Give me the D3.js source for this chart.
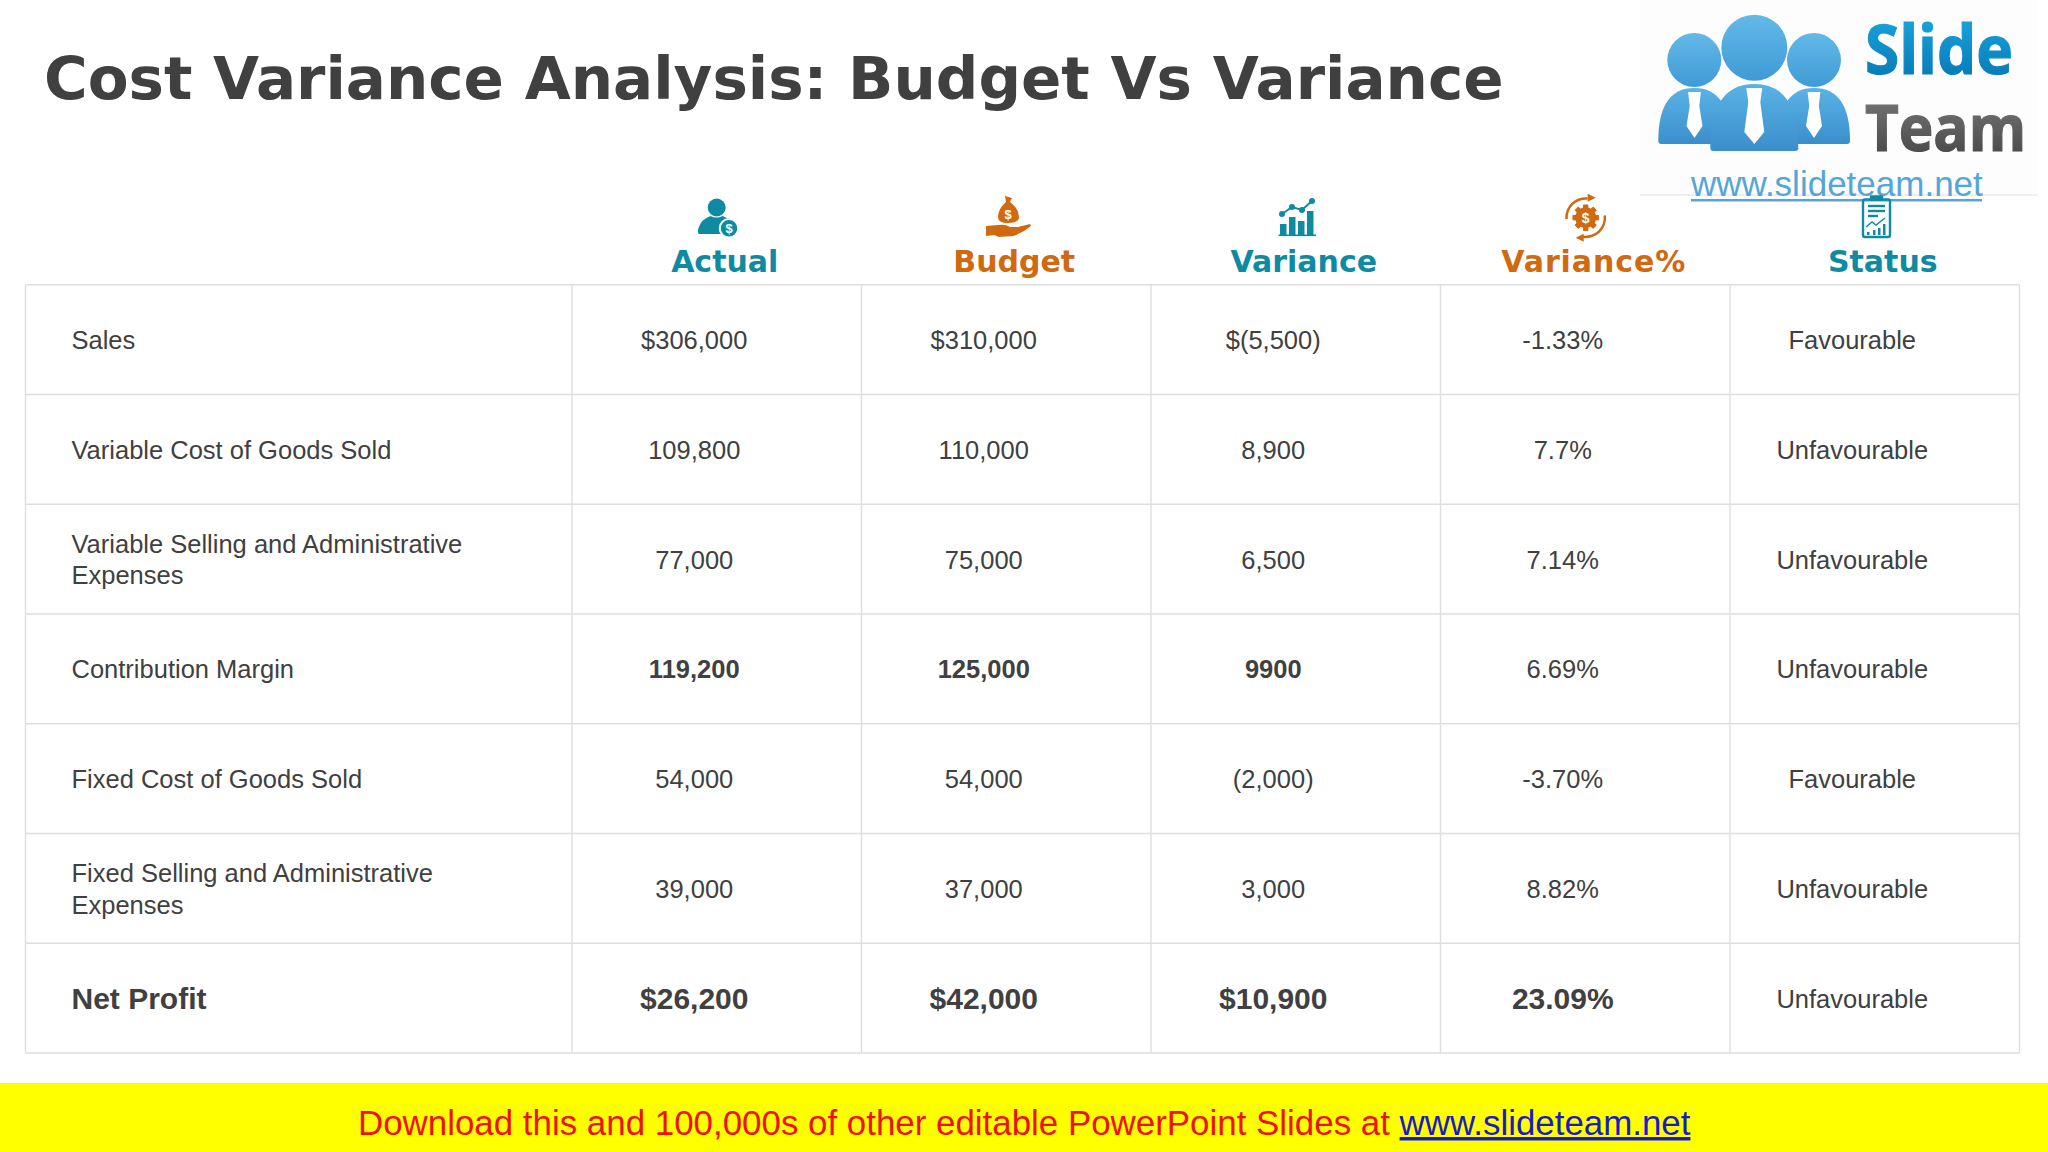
<!DOCTYPE html>
<html lang="en">
<head>
<meta charset="UTF-8">
<script src="https://d3js.org/d3.v7.min.js"></script>
<title>Cost Variance Analysis</title>
<style>
  html, body { margin: 0; padding: 0; background: #fff; }
  svg { display: block; }
  text { font-family: "Liberation Sans", Arial, sans-serif; fill: #404040; }
  .dj { font-family: "DejaVu Sans", Verdana, sans-serif; font-weight: bold; }
  .os { font-family: "Open Sans", sans-serif; font-weight: bold; }
</style>
</head>
<body>
<div id="chart"></div>
<script>
const titleText = "Cost Variance Analysis: Budget Vs Variance";
const columns = ["Actual", "Budget", "Variance", "Variance%", "Status"];
const columnColors = ["#0e8ba3", "#d0690f", "#0e8ba3", "#d0690f", "#0e8ba3"];
const rowLabels = [
  ["Sales"],
  ["Variable Cost of Goods Sold"],
  ["Variable Selling and Administrative", "Expenses"],
  ["Contribution Margin"],
  ["Fixed Cost of Goods Sold"],
  ["Fixed Selling and Administrative", "Expenses"],
  ["Net Profit"]
];
const actual = ["$306,000", "109,800", "77,000", "119,200", "54,000", "39,000", "$26,200"];
const budget = ["$310,000", "110,000", "75,000", "125,000", "54,000", "37,000", "$42,000"];
const variance = ["$(5,500)", "8,900", "6,500", "9900", "(2,000)", "3,000", "$10,900"];
const variancePct = ["-1.33%", "7.7%", "7.14%", "6.69%", "-3.70%", "8.82%", "23.09%"];
const status = ["Favourable", "Unfavourable", "Unfavourable", "Unfavourable", "Favourable", "Unfavourable", "Unfavourable"];
const valueColumns = [actual, budget, variance, variancePct, status];

const W = 2048, H = 1152;
const svg = d3.select("#chart").append("svg").attr("width", W).attr("height", H);
const defs = svg.append("defs");

function grad(id, top, bottom) {
  const g = defs.append("linearGradient").attr("id", id).attr("x1", 0).attr("x2", 0).attr("y1", 0).attr("y2", 1);
  g.append("stop").attr("offset", "0%").attr("stop-color", top);
  g.append("stop").attr("offset", "100%").attr("stop-color", bottom);
}
grad("gHead", "#63b9e8", "#3f9bd6");
grad("gBody", "#5ab2e6", "#3a8fcb");
grad("gSlide", "#1eaee6", "#0270ae");
grad("gTeam", "#808080", "#3f3f3f");

// scales
const tableLeft = 25.5, labelRight = 572, tableRight = 2019.5;
const x = d3.scaleBand().domain(columns).range([labelRight, tableRight]);
const y = d3.scaleBand().domain(d3.range(rowLabels.length)).range([284.7, 1053]);

svg.append("text").attr("class", "dj").attr("x", 44).attr("y", 99)
  .style("font-size", "59.5px").text(titleText);

// grid
const grid = svg.append("g").attr("stroke", "#dedede").attr("stroke-width", 1.4);
const hLines = y.domain().map(d => y(d)).concat([y.range()[1]]);
grid.selectAll("line.h").data(hLines).enter().append("line").attr("class", "h")
  .attr("x1", tableLeft).attr("x2", tableRight).attr("y1", d => d).attr("y2", d => d);
const vLines = [tableLeft].concat(columns.map(c => x(c)), [tableRight]);
grid.selectAll("line.v").data(vLines).enter().append("line").attr("class", "v")
  .attr("x1", d => d).attr("x2", d => d).attr("y1", y.range()[0]).attr("y2", y.range()[1]);

// headers
svg.selectAll("text.head").data(columns).enter().append("text").attr("class", "head dj")
  .attr("x", d => x(d) + x.bandwidth() / 2 + 8)
  .attr("y", 271.7).attr("text-anchor", "middle")
  .style("font-size", "30px").style("fill", (d, i) => columnColors[i])
  .attr("textLength", d => d === "Variance%" ? 184 : null)
  .text(d => d);

// row labels
const lastRow = rowLabels.length - 1;
const labelG = svg.selectAll("g.label").data(rowLabels).enter().append("g").attr("class", "label");
labelG.each(function (lines, r) {
  const mid = y(r) + y.bandwidth() / 2;
  d3.select(this).selectAll("text").data(lines).enter().append("text")
    .attr("x", 71.5)
    .attr("y", (d, i) => mid + (r === lastRow ? 11 : 9.5) + (i - (lines.length - 1) / 2) * 31.3)
    .style("font-size", r === lastRow ? "30px" : "25.5px")
    .style("font-weight", r === lastRow ? "bold" : "normal")
    .text(d => d);
});

// values
columns.forEach((c, ci) => {
  svg.selectAll("text.c" + ci).data(valueColumns[ci]).enter().append("text").attr("class", "c" + ci)
    .attr("x", x(c) + x.bandwidth() / 2 - 22.5)
    .attr("y", (d, r) => y(r) + y.bandwidth() / 2 + (r === lastRow && ci < 4 ? 11 : 9.5))
    .attr("text-anchor", "middle")
    .style("font-size", (d, r) => r === lastRow && ci < 4 ? "30px" : "25.5px")
    .style("font-weight", (d, r) => (r === lastRow && ci < 4) || (r === 3 && ci < 3) ? "bold" : "normal")
    .text(d => d);
});

// icons
const teal = columnColors[0], orange = columnColors[1];
// actual
const ia = svg.append("g").attr("fill", teal);
ia.append("circle").attr("cx", 716.7).attr("cy", 207.5).attr("r", 9);
ia.append("path").attr("d", "M699 234 q-2 -2 -0.5 -6 q3 -9 12 -12 q6 3 12 0 q6 2 9 6 l-10 12 z");
ia.append("circle").attr("cx", 729).attr("cy", 228.3).attr("r", 9.3).attr("stroke", "#fff").attr("stroke-width", 2);
ia.append("text").attr("x", 729).attr("y", 233).attr("text-anchor", "middle")
  .style("font-size", "13px").style("font-weight", "bold").style("fill", "#fff").text("$");
// budget
const ib = svg.append("g").attr("fill", orange);
ib.append("path").attr("d", "M1005 196 l7 2 l-2 4 q9 7 9 15 q0 6 -11 6 q-10 0 -10 -6 q0 -8 8 -15 z");
ib.append("text").attr("x", 1008).attr("y", 219).attr("text-anchor", "middle")
  .style("font-size", "13px").style("font-weight", "bold").style("fill", "#fff").text("$");
ib.append("path").attr("d", "M986 226 l12 -1 q8 -1 12 2 l8 0 l12 -3 l1 2 q-8 7 -18 10 l-14 1 l-5 -2 l-8 1 z");
// variance
const iv = svg.append("g").attr("fill", teal);
[[1280, 224], [1289, 217], [1298, 221], [1307, 211]].forEach(b => {
  iv.append("rect").attr("x", b[0]).attr("y", b[1]).attr("width", 6.5).attr("height", 235 - b[1]);
});
iv.append("rect").attr("x", 1278.5).attr("y", 234.5).attr("width", 37.5).attr("height", 1.6);
const ptsV = [[1282, 214], [1292, 207], [1302, 210], [1312, 201]];
iv.append("path").attr("fill", "none").attr("stroke", teal).attr("stroke-width", 2).attr("d", d3.line()(ptsV));
ptsV.forEach(p => iv.append("circle").attr("cx", p[0]).attr("cy", p[1]).attr("r", 3));
// variance %
const ip = svg.append("g").attr("transform", "translate(1585.7,217.7)");
const gearTeeth = d3.range(8).map(i => i * 45);
gearTeeth.forEach(a => ip.append("rect").attr("x", -2.5).attr("y", -13).attr("width", 5).attr("height", 26)
  .attr("fill", orange).attr("transform", `rotate(${a})`));
ip.append("circle").attr("r", 10.5).attr("fill", orange);
ip.append("text").attr("y", 5).attr("text-anchor", "middle").style("font-size", "14px")
  .style("font-weight", "bold").style("fill", "#fff").text("$");
const arc = d3.arc().innerRadius(18).outerRadius(20.5);
ip.append("path").attr("fill", orange).attr("d", arc({ startAngle: -1.65, endAngle: 0.1 }));
ip.append("path").attr("fill", orange).attr("d", arc({ startAngle: 1.45, endAngle: 3.3 }));
ip.append("path").attr("fill", orange).attr("d", "M2 -24 l8 4 l-8 4 z");
ip.append("path").attr("fill", orange).attr("d", "M-2 24 l-8 -4 l8 -4 z");

// logo
svg.append("rect").attr("x", 1640).attr("y", 0).attr("width", 397).attr("height", 195).attr("fill", "#fdfdfd");
svg.append("line").attr("x1", 1640).attr("x2", 2037).attr("y1", 195).attr("y2", 195).attr("stroke", "#dedede").attr("stroke-width", 1);
const logo = svg.append("g");
function person(cx, headY, r, w, top, bottom) {
  logo.append("circle").attr("cx", cx).attr("cy", headY).attr("r", r).attr("fill", "url(#gHead)");
  logo.append("path").attr("fill", "url(#gBody)")
    .attr("d", `M${cx - w} ${bottom - 3} Q${cx - w} ${top} ${cx} ${top} Q${cx + w} ${top} ${cx + w} ${bottom - 3} Q${cx + w} ${bottom} ${cx + w - 3} ${bottom} L${cx - w + 3} ${bottom} Q${cx - w} ${bottom} ${cx - w} ${bottom - 3} Z`);
}
function tie(cx, top, bottom, hw) {
  logo.append("path").attr("fill", "#fff")
    .attr("d", `M${cx - hw * 0.8} ${top} L${cx + hw * 0.8} ${top} L${cx + hw * 0.6} ${top + 14} L${cx + hw} ${bottom - 12} L${cx} ${bottom} L${cx - hw} ${bottom - 12} L${cx - hw * 0.6} ${top + 14} Z`);
}
person(1694.3, 60, 27, 36, 88, 144);
tie(1694.5, 92, 138, 8);
person(1814, 60, 27, 36, 88, 144);
tie(1814, 92, 138, 8);
person(1754.3, 47.7, 33, 44, 84, 151);
tie(1754.3, 88, 144, 10);
svg.append("text").attr("class", "os").attr("x", 1865).attr("y", 74)
  .attr("textLength", 148).attr("lengthAdjust", "spacingAndGlyphs")
  .attr("stroke", "url(#gSlide)").attr("stroke-width", 1.2)
  .style("font-size", "68px").style("fill", "url(#gSlide)").text("Slide");
svg.append("text").attr("class", "os").attr("x", 1865).attr("y", 150.5)
  .attr("textLength", 161).attr("lengthAdjust", "spacingAndGlyphs")
  .attr("stroke", "url(#gTeam)").attr("stroke-width", 1.2)
  .style("font-size", "64px").style("fill", "url(#gTeam)").text("Team");
svg.append("text").attr("x", 1691).attr("y", 196)
  .style("font-size", "35px").style("fill", "#55a6d8").text("www.slideteam.net");
svg.append("rect").attr("x", 1691).attr("y", 199).attr("width", 291).attr("height", 2.5).attr("fill", "#55a6d8");
// status icon drawn over the logo link
const is = svg.append("g").attr("fill", "none").attr("stroke", teal).attr("stroke-width", 2.4);
is.append("rect").attr("x", 1863).attr("y", 199.5).attr("width", 27).attr("height", 37.5).attr("rx", 2);
is.append("rect").attr("x", 1871).attr("y", 196.5).attr("width", 11).attr("height", 3).attr("fill", teal);
[206, 211, 216].forEach((yy, i) => is.append("line").attr("x1", 1868).attr("x2", i === 2 ? 1878 : 1885).attr("y1", yy).attr("y2", yy));
is.append("path").attr("stroke-width", 1.4).attr("d", "M1866 227 L1872 222 L1876 225 L1885 218");
[[1867, 232, 3], [1873, 230, 5], [1878, 228, 7], [1883, 224, 11]].forEach(b => {
  is.append("rect").attr("x", b[0]).attr("y", b[1]).attr("width", 2.5).attr("height", b[2]).attr("fill", teal).attr("stroke", "none");
});

// banner
svg.append("rect").attr("x", 0).attr("y", 1083).attr("width", W).attr("height", H - 1083).attr("fill", "#ffff00");
const banner = svg.append("text").attr("x", 358).attr("y", 1135).style("font-size", "34.9px");
banner.append("tspan").style("fill", "#f01010").text("Download this and 100,000s of other editable PowerPoint Slides at ");
banner.append("tspan").style("fill", "#1a1ac8").style("text-decoration", "underline").text("www.slideteam.net");
</script>
</body>
</html>
